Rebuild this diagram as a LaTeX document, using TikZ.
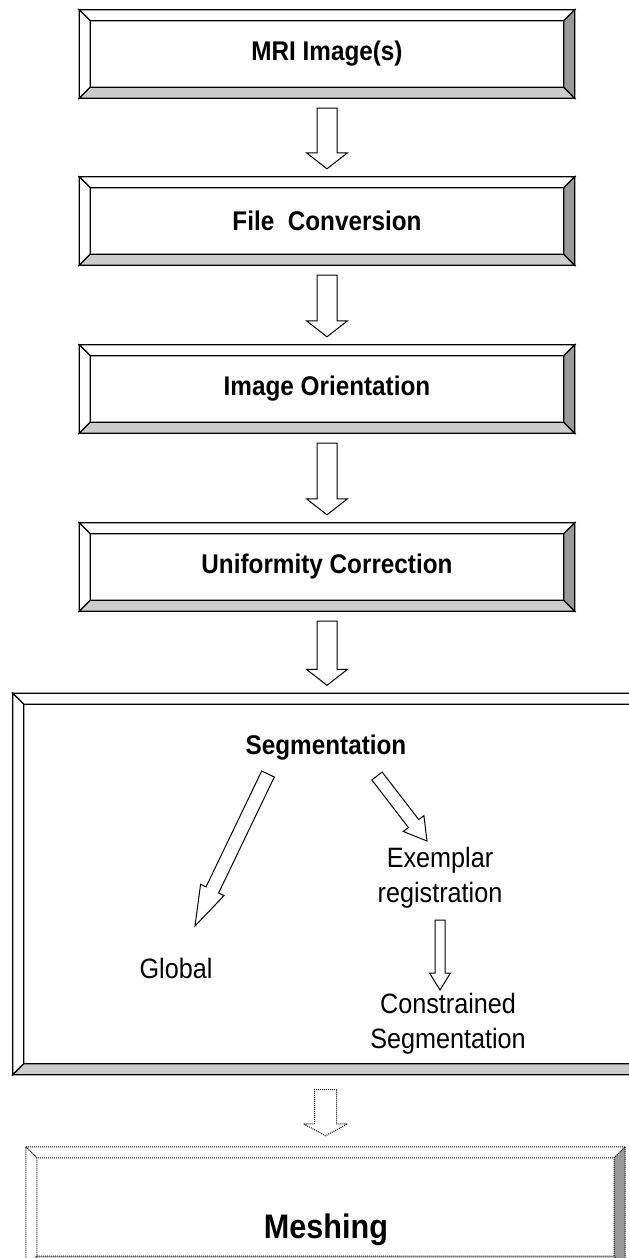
\documentclass[tikz,border=0pt]{standalone}
\usepackage{fontspec}
\setmainfont{Liberation Sans}[FakeStretch=0.9]
\usetikzlibrary{calc,positioning}

\definecolor{lightbev}{HTML}{CCCCCC}
\definecolor{darkbev}{HTML}{999999}

\newcommand{\titlefont}{\fontsize{27}{32}\selectfont\bfseries}
\newcommand{\plainfont}{\fontsize{28}{35}\selectfont}
\newcommand{\bigtitlefont}{\fontsize{34}{40}\selectfont\bfseries}

% framed box with bevelled edges round the node #2
\newcommand{\bevelbox}[2][]{%
  \coordinate (oNW) at ($(#2.north west)+(-\bv,-\bv)$);
  \coordinate (oNE) at ($(#2.north east)+(\bv,-\bv)$);
  \coordinate (oSW) at ($(#2.south west)+(-\bv,\bv)$);
  \coordinate (oSE) at ($(#2.south east)+(\bv,\bv)$);
  \filldraw[bevelline,#1,fill=white] (oNW) -- (oNE) -- (#2.north east) -- (#2.north west) -- cycle;
  \filldraw[bevelline,#1,fill=white] (oNW) -- (#2.north west) -- (#2.south west) -- (oSW) -- cycle;
  \filldraw[bevelline,#1,fill=lightbev] (oSW) -- (#2.south west) -- (#2.south east) -- (oSE) -- cycle;
  \filldraw[bevelline,#1,fill=darkbev] (oNE) -- (oSE) -- (#2.south east) -- (#2.north east) -- cycle;}

% hollow block arrow: start, tip, half shaft, half head, head length
\newcommand{\blockarrow}[6][]{%
  \coordinate (ba-s) at #2;
  \coordinate (ba-e) at #3;
  \coordinate (ba-b) at ($(ba-e)!#6pt!(ba-s)$);
  \draw[blockarr,#1] ($(ba-s)!#4pt!90:(ba-e)$) -- ($(ba-b)!#4pt!90:(ba-e)$)
    -- ($(ba-b)!#5pt!90:(ba-e)$) -- (ba-e) -- ($(ba-b)!#5pt!-90:(ba-e)$)
    -- ($(ba-b)!#4pt!-90:(ba-e)$) -- ($(ba-s)!#4pt!-90:(ba-e)$) -- cycle;}

\begin{document}
\begin{tikzpicture}[x=1pt,y=-1pt]

\tikzset{stepbox/.style={minimum width=473pt, minimum height=66pt, inner sep=0pt, font=\titlefont},
  bevelline/.style={draw=black, line width=1.3pt, line join=miter},
  blockarr/.style={draw=black, fill=white, line width=1pt, line join=miter},
  lbl/.style={inner sep=0pt, align=center, font=\plainfont}}

    \def\bv{11} % width of the bevel

    \useasboundingbox (0,0) rectangle (629,1258);

    % Pipeline boxes
    \node[stepbox] (mri) at (327,54) {};
    \node[stepbox] (conv) at (327,221) {};
    \node[stepbox] (orient) at (327,389) {};
    \node[stepbox] (unif) at (327,567) {};
    \node[inner sep=0pt, minimum width=616pt, minimum height=359pt] (seg) at (332,884) {};
    \node[inner sep=0pt, minimum width=577pt, minimum height=98pt] (mesh) at (325.5,1207) {};

    \bevelbox{mri}
    \bevelbox{conv}
    \bevelbox{orient}
    \bevelbox{unif}
    \bevelbox{seg}
    \bevelbox[dash pattern=on 1pt off 1pt, line width=1pt]{mesh}

    \node[font=\titlefont] at (mri) {MRI Image(s)};
    \node[font=\titlefont] at (conv) {File\ \ Conversion};
    \node[font=\titlefont] at (orient) {Image Orientation};
    \node[font=\titlefont] at (unif) {Uniformity Correction};

    % Segmentation branch
    \node[lbl, font=\titlefont] (segtitle) at (326,748) {Segmentation};
    \node[lbl] (global) at (176,968) {Global};
    \node[lbl] (exreg) at (440,878) {Exemplar\\registration};
    \node[lbl] (constr) at (448,1024) {Constrained\\Segmentation};
    \node[lbl, font=\bigtitlefont] (meshtitle) at (326,1230) {Meshing};

    % Arrows
    \blockarrow{($(mri.south)+(0,\bv+10)$)}{($(conv.north)+(0,-\bv-8)$)}{10}{20.5}{16}
    \blockarrow{($(conv.south)+(0,\bv+10)$)}{($(orient.north)+(0,-\bv-8)$)}{10}{20.5}{16}
    \blockarrow{($(orient.south)+(0,\bv+10)$)}{($(unif.north)+(0,-\bv-8)$)}{10}{20.5}{16}
    \blockarrow{($(unif.south)+(0,\bv+10)$)}{($(unif.south |- seg.north)+(0,-\bv-8)$)}{10}{20.5}{16}

    \blockarrow{($(segtitle)+(-58,26)$)}{($(global)+(19,-42)$)}{7}{13}{40}
    \blockarrow{($(segtitle)+(51,28)$)}{($(exreg)+(-13,-37)$)}{6.5}{13}{22}
    \blockarrow{($(exreg)+(0,42)$)}{($(exreg |- constr)+(0,-34)$)}{5}{10.5}{17}

    \blockarrow[dash pattern=on 1pt off 1pt]{($(mesh.north |- seg.south)+(0,\bv+15)$)}{($(mesh.north)+(0,-\bv-11)$)}{11}{22}{12}

\end{tikzpicture}
\end{document}
